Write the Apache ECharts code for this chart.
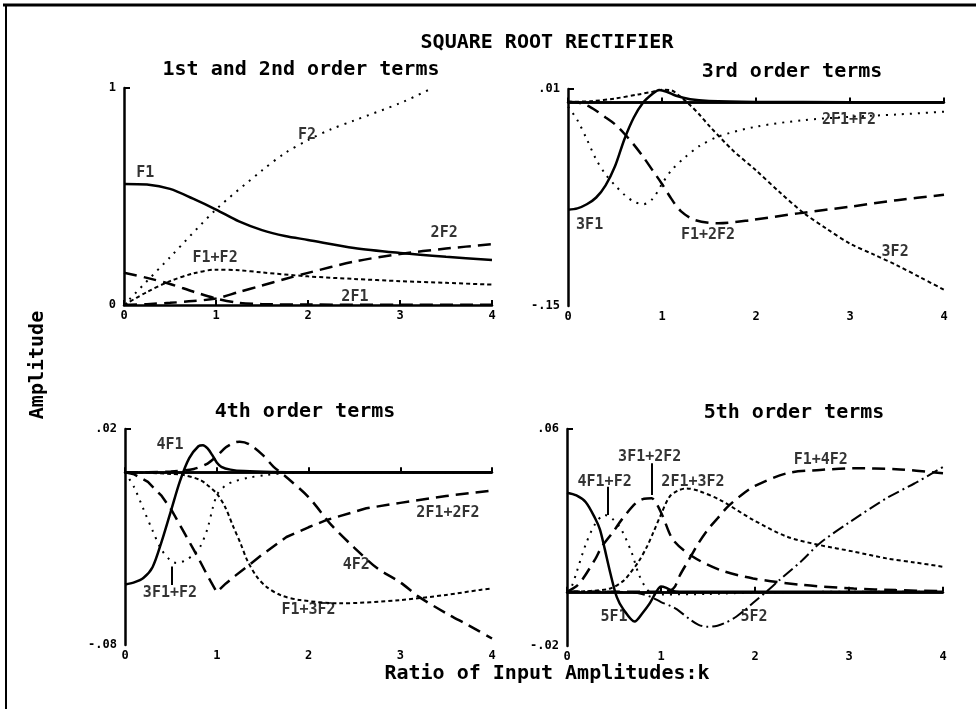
<!DOCTYPE html>
<html><head><meta charset="utf-8">
<script src="https://cdn.jsdelivr.net/npm/echarts@6/dist/echarts.min.js"></script>
<style>html,body{margin:0;padding:0;background:#fff}#c{width:977px;height:709px}</style>
</head><body><div id="c"></div><script>
// ---------- tick labels ----------
const xTicks = [0, 1, 2, 3, 4];
const p1YRange = [0, 1];        const p1YLabels = ['0', '1'];
const p2YRange = [-0.15, 0.01]; const p2YLabels = ['-.15', '.01'];
const p3YRange = [-0.08, 0.02]; const p3YLabels = ['-.08', '.02'];
const p4YRange = [-0.02, 0.06]; const p4YLabels = ['-.02', '.06'];

// ---------- Panel 1: 1st and 2nd order terms ----------
const p1_F1   = [[0,0.558],[0.25,0.555],[0.5,0.535],[0.75,0.49],[1,0.44],[1.25,0.385],[1.5,0.345],[1.75,0.318],[2,0.30],[2.5,0.263],[3,0.24],[3.5,0.222],[4,0.207]];
const p1_F2   = [[0,0],[0.5,0.22],[1,0.44],[1.5,0.62],[1.75,0.70],[2,0.76],[2.25,0.81],[2.5,0.85],[3,0.93],[3.33,0.995]];
const p1_F1F2 = [[0,0],[0.25,0.06],[0.5,0.11],[0.75,0.145],[1,0.163],[1.25,0.16],[1.5,0.15],[2,0.132],[2.5,0.12],[3,0.11],[3.5,0.102],[4,0.094]];
const p1_2F1  = [[0,0.149],[0.25,0.125],[0.5,0.097],[0.75,0.062],[1,0.03],[1.25,0.01],[1.5,0.004],[2,0.002],[3,0.001],[4,0.001]];
const p1_2F2  = [[0,0],[0.25,0.004],[0.5,0.01],[0.75,0.018],[1,0.03],[1.25,0.06],[1.5,0.09],[1.75,0.12],[2,0.148],[2.5,0.20],[3,0.235],[3.5,0.26],[4,0.28]];

// ---------- Panel 2: 3rd order terms ----------
const p2_3F1    = [[0,-0.079],[0.1,-0.078],[0.2,-0.075],[0.3,-0.070],[0.4,-0.061],[0.5,-0.047],[0.6,-0.027],[0.7,-0.011],[0.8,0.0],[0.9,0.0065],[0.97,0.0093],[1.05,0.008],[1.15,0.005],[1.3,0.0025],[1.5,0.0012],[2,0.0005],[3,0.0003],[4,0.0002]];
const p2_F12F2  = [[0,0.0006],[0.1,0.0],[0.2,-0.002],[0.3,-0.006],[0.4,-0.011],[0.5,-0.016],[0.6,-0.023],[0.7,-0.031],[0.8,-0.040],[0.9,-0.050],[1,-0.060],[1.1,-0.071],[1.2,-0.080],[1.35,-0.0866],[1.6,-0.089],[1.95,-0.0866],[2.45,-0.0817],[3,-0.0768],[3.5,-0.072],[4,-0.068]];
const p2_2F1F2  = [[0,-0.003],[0.1,-0.013],[0.2,-0.027],[0.3,-0.042],[0.4,-0.053],[0.5,-0.061],[0.6,-0.068],[0.7,-0.073],[0.8,-0.075],[0.9,-0.071],[1.0,-0.060],[1.1,-0.050],[1.25,-0.040],[1.4,-0.032],[1.6,-0.025],[2,-0.0178],[2.5,-0.013],[3,-0.0105],[3.5,-0.0088],[4,-0.0067]];
const p2_3F2    = [[0,0.0006],[0.25,0.001],[0.5,0.003],[0.75,0.006],[0.9,0.008],[1.0,0.0095],[1.1,0.009],[1.2,0.004],[1.3,-0.002],[1.4,-0.009],[1.5,-0.017],[1.75,-0.035],[2,-0.05],[2.25,-0.066],[2.5,-0.081],[2.75,-0.093],[3,-0.104],[3.25,-0.112],[3.5,-0.12],[3.75,-0.129],[4,-0.138]];

// ---------- Panel 3: 4th order terms ----------
const p3_4F1    = [[0,-0.052],[0.1,-0.051],[0.2,-0.049],[0.3,-0.044],[0.4,-0.032],[0.5,-0.018],[0.6,-0.004],[0.7,0.0065],[0.8,0.012],[0.85,0.0125],[0.9,0.011],[0.95,0.008],[1.0,0.0045],[1.05,0.0025],[1.15,0.0012],[1.3,0.0005],[1.6,0.0001],[2,0],[4,0]];
const p3_4F2    = [[0,0],[0.25,0],[0.5,0.0003],[0.75,0.0015],[0.9,0.004],[1.0,0.0075],[1.1,0.0115],[1.2,0.0138],[1.25,0.0141],[1.35,0.013],[1.5,0.008],[1.62,0.0025],[1.75,-0.002],[2,-0.0115],[2.25,-0.0245],[2.5,-0.035],[2.75,-0.0445],[3,-0.051],[3.2,-0.0576],[3.5,-0.0653],[3.75,-0.071],[4,-0.077]];
const p3_2F12F2 = [[0,0],[0.1,-0.001],[0.25,-0.0045],[0.4,-0.011],[0.5,-0.017],[0.63,-0.0268],[0.75,-0.036],[0.81,-0.0406],[0.9,-0.048],[1.0,-0.0555],[1.1,-0.0515],[1.2,-0.048],[1.33,-0.0437],[1.5,-0.038],[1.76,-0.030],[2,-0.0255],[2.2,-0.0221],[2.63,-0.0167],[3,-0.0142],[3.5,-0.011],[4,-0.0085]];
const p3_3F1F2  = [[0,0],[0.1,-0.007],[0.2,-0.017],[0.3,-0.027],[0.4,-0.036],[0.5,-0.041],[0.56,-0.042],[0.65,-0.041],[0.75,-0.038],[0.82,-0.0345],[0.9,-0.026],[0.96,-0.016],[1.01,-0.0099],[1.1,-0.006],[1.18,-0.0044],[1.35,-0.0025],[1.54,-0.0013],[1.75,-0.0004],[2,0],[4,0]];
const p3_F13F2  = [[0,0],[0.25,-0.0003],[0.5,-0.0008],[0.64,-0.0013],[0.82,-0.0036],[0.9,-0.006],[1.0,-0.0099],[1.09,-0.016],[1.18,-0.0252],[1.26,-0.033],[1.33,-0.0406],[1.43,-0.048],[1.54,-0.053],[1.7,-0.057],[1.91,-0.0592],[2.34,-0.0607],[3,-0.0592],[3.5,-0.0568],[3.87,-0.0545],[4,-0.0538]];

// ---------- Panel 4: 5th order terms ----------
const p4_5F1    = [[0,0.0365],[0.1,0.0355],[0.2,0.033],[0.3,0.027],[0.35,0.023],[0.4,0.016],[0.46,0.007],[0.53,-0.002],[0.6,-0.0065],[0.72,-0.011],[0.8,-0.008],[0.88,-0.0043],[0.95,0.0],[1.0,0.0019],[1.05,0.0015],[1.12,0.0003],[1.2,0],[2,0],[4,0]];
const p4_4F1F2  = [[0,0],[0.05,0.002],[0.1,0.007],[0.2,0.0175],[0.3,0.025],[0.4,0.0283],[0.48,0.027],[0.58,0.0228],[0.69,0.0142],[0.76,0.0068],[0.83,0.0019],[0.9,-0.0006],[1.0,-0.001],[1.5,-0.0008],[2,-0.0003],[3,0],[4,0]];
const p4_3F12F2 = [[0,0],[0.1,0.002],[0.16,0.0043],[0.3,0.012],[0.37,0.0166],[0.5,0.0225],[0.58,0.0265],[0.73,0.0326],[0.82,0.0343],[0.9,0.0345],[0.96,0.032],[1.02,0.0277],[1.13,0.0191],[1.34,0.0129],[1.63,0.008],[1.98,0.0049],[2.51,0.0025],[3.05,0.0012],[3.5,0.0006],[4,0.0002]];
const p4_2F13F2 = [[0,0],[0.25,0.0003],[0.46,0.0012],[0.6,0.004],[0.67,0.0068],[0.76,0.011],[0.85,0.0166],[0.92,0.022],[0.99,0.0277],[1.09,0.035],[1.18,0.0373],[1.27,0.0381],[1.4,0.0372],[1.63,0.0338],[1.98,0.0265],[2.34,0.0203],[2.69,0.0172],[3.05,0.0148],[3.4,0.0123],[3.7,0.0108],[4,0.0092]];
const p4_F14F2  = [[0,0],[0.5,0],[1.0,0],[1.1,0.0005],[1.15,0.002],[1.2,0.006],[1.3,0.012],[1.4,0.018],[1.5,0.023],[1.6,0.027],[1.7,0.031],[1.85,0.0355],[2,0.039],[2.34,0.0437],[2.69,0.0449],[3.05,0.0455],[3.5,0.0452],[4,0.0437]];
const p4_5F2    = [[0,0],[0.5,0],[0.75,-0.0005],[0.9,-0.002],[1.0,-0.0038],[1.1,-0.0052],[1.17,-0.0065],[1.3,-0.0100],[1.4,-0.0122],[1.49,-0.0129],[1.6,-0.0125],[1.7,-0.0112],[1.8,-0.0092],[1.9,-0.0065],[2.0,-0.0035],[2.12,0.0],[2.25,0.004],[2.5,0.0115],[2.69,0.0179],[3,0.0255],[3.4,0.0345],[3.7,0.040],[4,0.046]];

// ---------- curve annotations [text, k, amplitude] ----------
const p1Notes = [['F1',0.23,0.607],['F2',1.99,0.783],['F1+F2',0.99,0.218],['2F2',3.48,0.33],['2F1',2.51,0.038]];
const p2Notes = [['2F1+F2',2.99,-0.0129],['3F1',0.23,-0.0903],['F1+2F2',1.49,-0.0977],['3F2',3.48,-0.110]];
const p3Notes = [['4F1',0.49,0.0126],['2F1+2F2',3.52,-0.0189],['4F2',2.52,-0.043],['F1+3F2',2.0,-0.0638],['3F1+F2',0.49,-0.0559]];
const p4Notes = [['4F1+F2',0.40,0.0406],['3F1+2F2',0.88,0.0496],['2F1+3F2',1.34,0.0406],['F1+4F2',2.70,0.0486],['5F1',0.5,-0.0092],['5F2',1.99,-0.0092]];
// arrows [k, from, to]
const p3Arrows = [[0.51,-0.0522,-0.0437]];
const p4Arrows = [[0.43,0.0387,0.0283],[0.90,0.0474,0.0357]];

// ---------- styles ----------
const MONO = '"DejaVu Sans Mono", monospace';
const SOLID = {type:'solid', width:2.5};
const LONG  = {type:[13,7], width:2.5};
const SHORT = {type:[4,3], width:2};
const DOT   = {type:[2,6], width:2};
const DASHDOT = {type:[12,4,2,4], width:2};

const grids = [
  {left:124, top:88, width:368, height:217},
  {left:568, top:89, width:376, height:217},
  {left:125, top:429, width:367, height:216},
  {left:567, top:429, width:376, height:217}
];
const yRanges = [p1YRange, p2YRange, p3YRange, p4YRange];
const yLabels = [p1YLabels, p2YLabels, p3YLabels, p4YLabels];

const xAxes = grids.map((g,i)=>({
  type:'value', gridIndex:i, min:xTicks[0], max:xTicks[xTicks.length-1], interval:1,
  axisLine:{show:true, lineStyle:{color:'#000', width:2.5}},
  axisTick:{show:true, inside:true, length:5, lineStyle:{color:'#000', width:2}},
  axisLabel:{color:'#000', fontFamily:MONO, fontWeight:'bold', fontSize:12, margin:5},
  splitLine:{show:false}
}));
const yAxes = grids.map((g,i)=>({
  type:'value', gridIndex:i, min:yRanges[i][0], max:yRanges[i][1],
  axisLine:{show:true, lineStyle:{color:'#000', width:2.5}},
  axisTick:{show:true, inside:true, length:6, customValues:[yRanges[i][1]], lineStyle:{color:'#000', width:2}},
  axisLabel:{color:'#000', fontFamily:MONO, fontWeight:'bold', fontSize:12, margin:8,
    customValues:[yRanges[i][0], yRanges[i][1]],
    formatter:(v)=> (Math.abs(v - yRanges[i][0]) < 1e-9 ? yLabels[i][0] : yLabels[i][1])},
  splitLine:{show:false}
}));

function line(name, data, style, gi, smooth){
  return {type:'line', name, xAxisIndex:gi, yAxisIndex:gi, data, showSymbol:false, symbol:'none',
    smooth: smooth===undefined ? 0.3 : smooth, silent:true,
    lineStyle:Object.assign({color:'#000', cap:'butt'}, style)};
}
function zeroLine(s){
  s.markLine = {silent:true, symbol:'none', label:{show:false},
    lineStyle:{color:'#000', type:'solid', width:2.5}, data:[{yAxis:0}]};
  return s;
}
function notes(list, arrows, gi){
  const s = {type:'scatter', xAxisIndex:gi, yAxisIndex:gi, symbolSize:1, silent:true, z:5,
    itemStyle:{color:'rgba(0,0,0,0)'},
    data:list.map(n=>({name:n[0], value:[n[1], n[2]]})),
    label:{show:true, position:'inside', formatter:'{b}', color:'#000', fontFamily:MONO, fontWeight:'bold', fontSize:15}};
  if (arrows) {
    s.markLine = {silent:true, symbol:['none','arrow'], symbolSize:[0,9], label:{show:false},
      lineStyle:{color:'#000', type:'solid', width:2},
      data:arrows.map(a=>[{coord:[a[0], a[1]]},{coord:[a[0], a[2]]}])};
  }
  return s;
}

const series = [
  line('F1', p1_F1, SOLID, 0),
  line('F2', p1_F2, DOT, 0),
  line('F1+F2', p1_F1F2, SHORT, 0),
  line('2F1', p1_2F1, LONG, 0),
  line('2F2', p1_2F2, LONG, 0),
  notes(p1Notes, null, 0),

  zeroLine(line('3F1', p2_3F1, SOLID, 1)),
  line('F1+2F2', p2_F12F2, LONG, 1),
  line('2F1+F2', p2_2F1F2, DOT, 1),
  line('3F2', p2_3F2, SHORT, 1),
  notes(p2Notes, null, 1),

  zeroLine(line('4F1', p3_4F1, SOLID, 2)),
  line('4F2', p3_4F2, LONG, 2),
  line('2F1+2F2', p3_2F12F2, LONG, 2, false),
  line('3F1+F2', p3_3F1F2, DOT, 2),
  line('F1+3F2', p3_F13F2, SHORT, 2),
  notes(p3Notes, p3Arrows, 2),

  zeroLine(line('5F1', p4_5F1, SOLID, 3)),
  line('4F1+F2', p4_4F1F2, DOT, 3),
  line('3F1+2F2', p4_3F12F2, LONG, 3),
  line('2F1+3F2', p4_2F13F2, SHORT, 3),
  line('F1+4F2', p4_F14F2, LONG, 3),
  line('5F2', p4_5F2, DASHDOT, 3),
  notes(p4Notes, p4Arrows, 3)
];

const txt = (text, x, y, size, rot) => ({type:'text', x, y, rotation: rot||0,
  style:{text, fill:'#000', font:'bold '+size+'px '+MONO, textAlign:'center', textVerticalAlign:'middle'}});

const option = {
  animation:false,
  backgroundColor:'#fff',
  grid: grids,
  xAxis: xAxes,
  yAxis: yAxes,
  series,
  graphic: [
    {type:'line', shape:{x1:3, y1:5, x2:976, y2:5}, style:{stroke:'#000', lineWidth:3}},
    {type:'line', shape:{x1:6, y1:5, x2:6, y2:709}, style:{stroke:'#000', lineWidth:2}},
    txt('SQUARE ROOT RECTIFIER', 547, 43, 20),
    txt('1st and 2nd order terms', 301, 70, 20),
    txt('3rd order terms', 792, 72, 20),
    txt('4th order terms', 305, 412, 20),
    txt('5th order terms', 794, 413, 20),
    txt('Ratio of Input Amplitudes:k', 547, 674, 20),
    txt('Amplitude', 38, 365, 20, Math.PI/2)
  ]
};
const chart = echarts.init(document.getElementById('c'), null, {renderer:'canvas'});
chart.setOption(option);
</script></body></html>
